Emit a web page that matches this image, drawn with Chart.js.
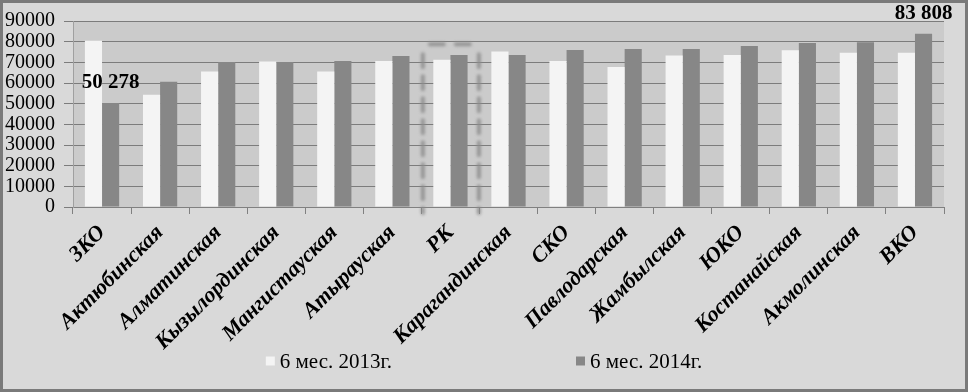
<!DOCTYPE html>
<html><head><meta charset="utf-8">
<script src="https://cdn.jsdelivr.net/npm/chart.js@4/dist/chart.umd.min.js"></script>
<style>html,body{margin:0;padding:0;background:#d9d9d9;overflow:hidden}canvas{display:block}</style>
</head><body>
<canvas id="c" width="968" height="392"></canvas>
<script>
const categories = ["ЗКО","Актюбинская","Алматинская","Кызылординская","Мангистауская","Атырауская","РК","Карагандинская","СКО","Павлодарская","Жамбылская","ЮКО","Костанайская","Акмолинская","ВКО"];
const series2013 = [80400,54300,65600,70400,65600,70700,71200,75200,70700,67800,73300,73600,75900,74600,74600];
const series2014 = [50278,60600,70200,70200,70700,73100,73600,73600,76000,76500,76500,77900,79400,79700,83808];
const seriesNames = ["6 мес. 2013г.","6 мес. 2014г."];
const yTickValues = [0,10000,20000,30000,40000,50000,60000,70000,80000,90000];
const labels2014 = ["50 278",null,null,null,null,null,null,null,null,null,null,null,null,null,"83 808"];
const highlightCategory = "РК";
const highlightTopValue = 78700;

const SERIF = "'Liberation Serif','Times New Roman',serif";
const colors = ["#f4f4f4","#878787"];

const bgPlugin = {
  id: 'bg',
  beforeDraw(chart) {
    const {ctx, chartArea: a} = chart;
    ctx.save();
    ctx.fillStyle = '#d9d9d9';
    ctx.fillRect(0,0,chart.width,chart.height);
    ctx.fillStyle = '#cbcbcb';
    ctx.fillRect(a.left,a.top,a.right-a.left,a.bottom-a.top);
    ctx.restore();
  },
  afterDraw(chart) {
    const ctx = chart.ctx;
    ctx.save();
    ctx.strokeStyle = '#7a7a7a';
    ctx.lineWidth = 3;
    ctx.strokeRect(1.5,1.5,chart.width-3,chart.height-3);
    ctx.restore();
  }
};

const highlightPlugin = {
  id: 'highlight',
  afterDatasetsDraw(chart) {
    const {ctx, chartArea: a, scales: {x, y}} = chart;
    const idx = categories.indexOf(highlightCategory);
    const cx = x.getPixelForValue(idx);
    const cw = x.getPixelForValue(1) - x.getPixelForValue(0);
    const left = cx - cw*0.475, right = cx + cw*0.49;
    const top = y.getPixelForValue(highlightTopValue);
    const bottom = a.bottom + 6;
    ctx.save();
    ctx.filter = 'blur(1.4px)';
    ctx.strokeStyle = 'rgba(140,140,140,0.85)';
    ctx.lineWidth = 4;
    ctx.lineCap = 'round';
    ctx.setLineDash([14,12]);
    ctx.beginPath();
    ctx.moveTo(left + 7, top);
    ctx.lineTo(right - 3, top);
    ctx.stroke();
    ctx.setLineDash([13,9]);
    ctx.beginPath();
    ctx.moveTo(left, top + 10);
    ctx.lineTo(left, bottom);
    ctx.moveTo(right, top + 10);
    ctx.lineTo(right, bottom);
    ctx.stroke();
    ctx.restore();
  }
};

const labelPlugin = {
  id: 'vlabels',
  afterDatasetsDraw(chart) {
    const ctx = chart.ctx;
    const meta = chart.getDatasetMeta(1);
    ctx.save();
    ctx.font = 'bold 21px ' + SERIF;
    ctx.fillStyle = '#000';
    ctx.textAlign = 'center';
    ctx.textBaseline = 'bottom';
    labels2014.forEach((t,i) => {
      if (!t) return;
      const b = meta.data[i];
      ctx.fillText(t, b.x, b.y - 10);
    });
    ctx.restore();
  }
};

const legendPlugin = {
  id: 'customLegend',
  afterDraw(chart) {
    const ctx = chart.ctx;
    ctx.save();
    ctx.font = '21px ' + SERIF;
    ctx.textBaseline = 'middle';
    const box = 9, gapText = 5, gapItems = 184;
    const widths = seriesNames.map(n => box + gapText + ctx.measureText(n).width);
    const total = widths.reduce((s,w)=>s+w,0) + gapItems*(widths.length-1);
    let xx = (chart.width - total)/2;
    const yc = 362;
    seriesNames.forEach((n,i) => {
      ctx.fillStyle = colors[i];
      ctx.fillRect(xx, yc - box/2 - 1, box, box);
      ctx.fillStyle = '#000';
      ctx.fillText(n, xx + box + gapText, yc);
      xx += widths[i] + gapItems;
    });
    ctx.restore();
  }
};

new Chart(document.getElementById('c'), {
  type: 'bar',
  data: {
    labels: categories,
    datasets: [
      {label: seriesNames[0], data: series2013, backgroundColor: colors[0], borderWidth: 0},
      {label: seriesNames[1], data: series2014, backgroundColor: colors[1], borderWidth: 0}
    ]
  },
  options: {
    responsive: false,
    animation: false,
    devicePixelRatio: 1,
    layout: {padding: {top: 20, right: 24, left: 0, bottom: 0}},
    datasets: {bar: {categoryPercentage: 0.59, barPercentage: 1.0}},
    plugins: {legend: {display: false}, tooltip: {enabled: false}},
    scales: {
      x: {
        grid: {offset: true, drawOnChartArea: false, drawTicks: true, tickLength: 7, color: '#808080'},
        border: {display: true, color: '#808080'},
        ticks: {
          autoSkip: false, maxRotation: 45, minRotation: 45, padding: 6,
          color: '#000', font: {family: SERIF, size: 22, weight: 'bold', style: 'italic'}
        },
        afterFit(s) { s.height = 185; }
      },
      y: {
        min: 0, max: 90000,
        afterBuildTicks(s) { s.ticks = yTickValues.map(v => ({value: v})); },
        grid: {color: '#7c7c7c', drawTicks: true, tickLength: 9},
        border: {display: true, color: '#a0a0a0'},
        ticks: {
          autoSkip: false,
          padding: 9, color: '#000', font: {family: SERIF, size: 20},
          callback: v => String(v)
        },
        afterFit(s) { s.width = 73; }
      }
    }
  },
  plugins: [bgPlugin, highlightPlugin, labelPlugin, legendPlugin]
});
</script>
</body></html>
